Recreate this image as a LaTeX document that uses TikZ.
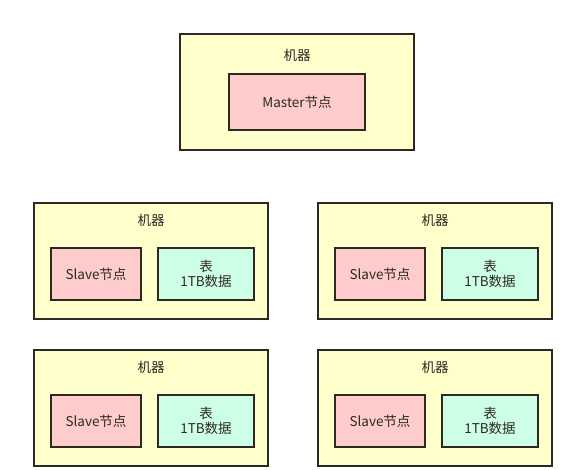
\documentclass[tikz,border=0pt]{standalone}
\usepackage{fontspec}
\setmainfont{Noto Sans CJK SC}
\usepackage{tikz}
\usetikzlibrary{positioning}
\usepackage{xcolor}
\definecolor{machineyellow}{RGB}{255,255,204}
\definecolor{nodepink}{RGB}{255,204,204}
\definecolor{tablegreen}{RGB}{204,255,230}
\definecolor{edgegray}{RGB}{45,40,35}

\begin{document}
\begin{tikzpicture}[
  x=1pt, y=-1pt,
  every node/.style={rectangle, align=center, font=\fontsize{13.5}{15.5}\selectfont, text=edgegray},
  machine/.style={draw=edgegray, line width=1.8pt, fill=machineyellow, minimum width=234pt, minimum height=116pt},
  master/.style={draw=edgegray, line width=1.8pt, fill=nodepink, minimum width=136pt, minimum height=56pt},
  slave/.style={draw=edgegray, line width=1.8pt, fill=nodepink, minimum width=90pt, minimum height=52pt},
  datatable/.style={draw=edgegray, line width=1.8pt, fill=tablegreen, minimum width=96pt, minimum height=52pt}
]
\useasboundingbox[fill=white] (0,0) rectangle (586,470);

% master machine
\node[machine] (m0) at (297,92) {};
\node (l0) at (297,55) {机器};
\node[master] (master) at (297,102) {Master节点};

% slave machines
\foreach \i/\cx/\cy in {1/151/261, 2/435/261, 3/151/408, 4/435/408} {
  \node[machine] (m\i) at (\cx,\cy) {};
  \node (l\i) at (\cx,\cy-41) {机器};
  \node[slave] (s\i) at (\cx-55,\cy+13) {Slave节点};
  \node[datatable] (t\i) at (\cx+55,\cy+13) {表\\1TB数据};
}

\end{tikzpicture}
\end{document}
